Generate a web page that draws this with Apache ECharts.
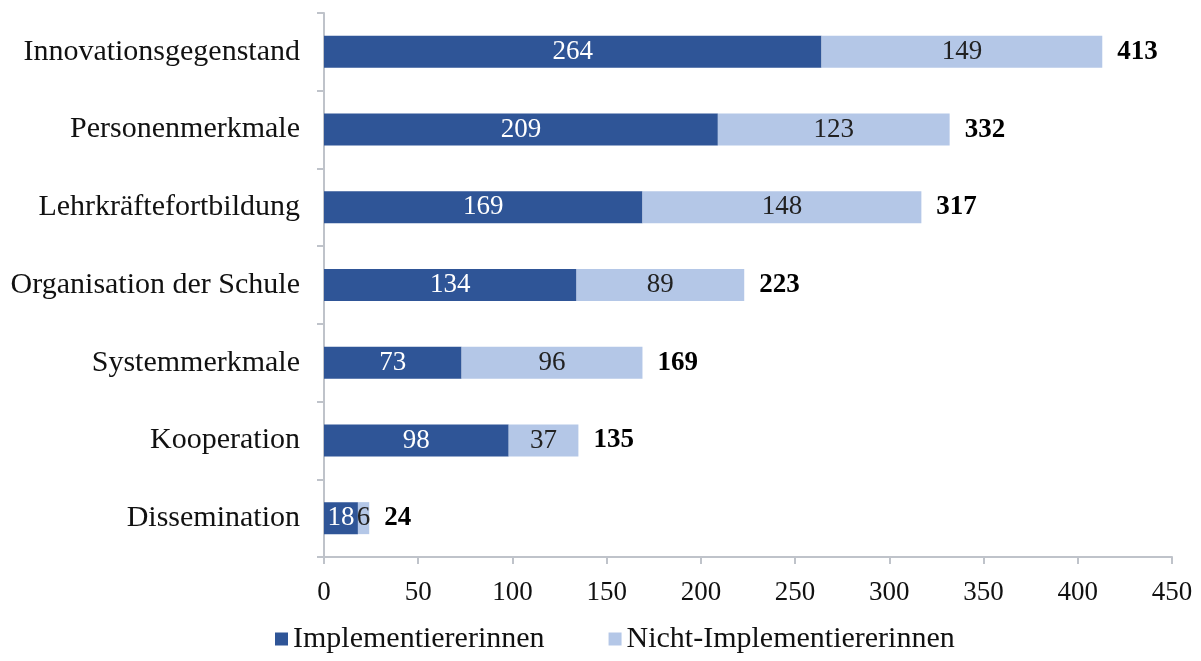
<!DOCTYPE html>
<html>
<head>
<meta charset="utf-8">
<script src="https://cdn.jsdelivr.net/npm/echarts@6/dist/echarts.min.js"></script>
<style>
  html, body { margin: 0; padding: 0; background: #fff; }
  #main { width: 1201px; height: 661px; }
</style>
</head>
<body>
<div id="main"></div>
<script>
var categories = ['Innovationsgegenstand', 'Personenmerkmale', 'Lehrkräftefortbildung',
    'Organisation der Schule', 'Systemmerkmale', 'Kooperation', 'Dissemination'];
var implementiert = [264, 209, 169, 134, 73, 98, 18];
var nichtImplementiert = [149, 123, 148, 89, 96, 37, 6];
var totals = [413, 332, 317, 223, 169, 135, 24];

var serif = '"Liberation Serif", "DejaVu Serif", serif';
var axisGrey = '#bfc3ca';

var myChart = echarts.init(document.getElementById('main'));

var option = {
    backgroundColor: '#fff',
    animation: false,
    textStyle: { fontFamily: serif },
    grid: { left: 324, right: 29, top: 13, bottom: 104, containLabel: false },
    legend: {
        data: ['Implementiererinnen', 'Nicht-Implementiererinnen'],
        left: 270,
        bottom: 2,
        itemWidth: 13,
        itemHeight: 13,
        itemGap: 64,
        icon: 'rect',
        textStyle: { fontFamily: serif, fontSize: 30, color: '#111' }
    },
    xAxis: {
        type: 'value',
        min: 0,
        max: 450,
        interval: 50,
        axisLine: { show: true, lineStyle: { color: axisGrey, width: 2 } },
        axisTick: { show: true, length: 7, lineStyle: { color: axisGrey, width: 2 } },
        splitLine: { show: false },
        axisLabel: { fontFamily: serif, fontSize: 27, color: '#111', margin: 22 }
    },
    yAxis: {
        type: 'category',
        data: categories,
        inverse: true,
        axisLine: { show: true, lineStyle: { color: axisGrey, width: 2 } },
        axisTick: { show: true, length: 7, lineStyle: { color: axisGrey, width: 2 } },
        axisLabel: { fontFamily: serif, fontSize: 30, color: '#111', margin: 24 }
    },
    series: [{
        name: 'Implementiererinnen',
        type: 'bar',
        stack: 'gesamt',
        barWidth: 32,
        data: implementiert,
        itemStyle: { color: '#2f5597' },
        label: { show: true, position: 'inside', color: '#fff', fontFamily: serif, fontSize: 27 }
    }, {
        name: 'Nicht-Implementiererinnen',
        type: 'bar',
        stack: 'gesamt',
        barWidth: 32,
        data: nichtImplementiert,
        itemStyle: { color: '#b4c7e7' },
        label: { show: true, position: 'inside', color: '#222', fontFamily: serif, fontSize: 27 }
    }, {
        name: 'Gesamt',
        type: 'bar',
        stack: 'gesamt',
        barWidth: 32,
        data: totals.map(function () { return 0; }),
        itemStyle: { color: 'transparent' },
        label: {
            show: true,
            position: 'right',
            distance: 15,
            color: '#000',
            fontWeight: 'bold',
            fontFamily: serif,
            fontSize: 27,
            formatter: function (p) { return totals[p.dataIndex]; }
        }
    }]
};

myChart.setOption(option);
</script>
</body>
</html>
